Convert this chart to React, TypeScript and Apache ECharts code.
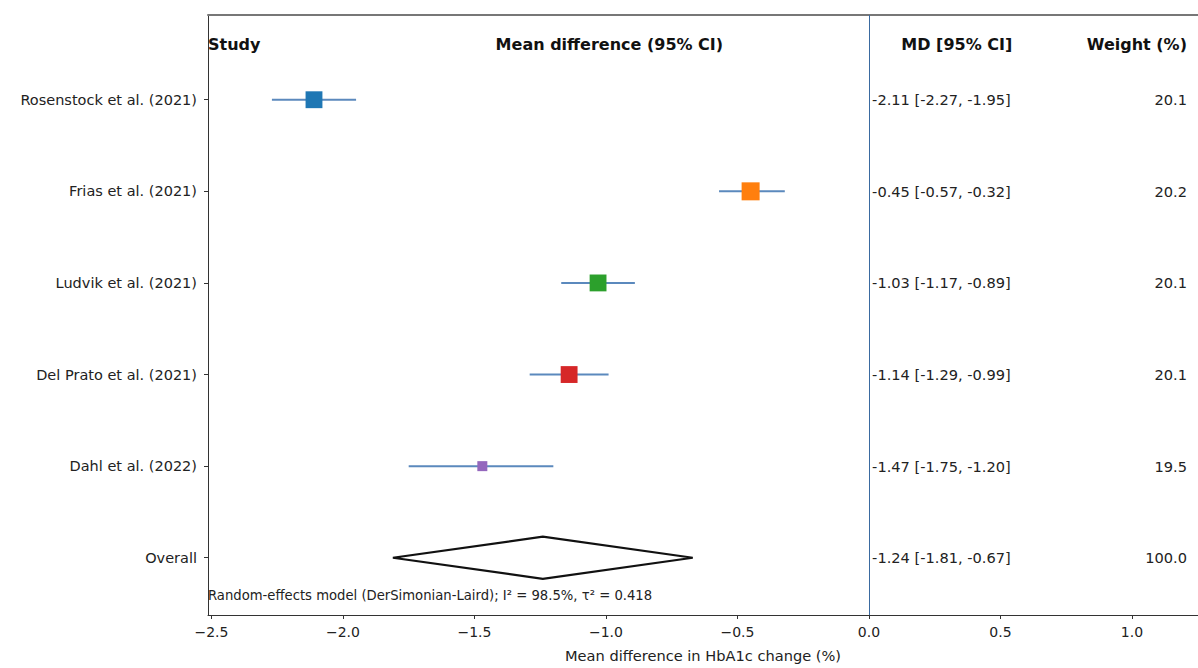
import React, { useEffect, useRef } from "react";
import * as echarts from "echarts";

const studies = [
  "Rosenstock et al. (2021)",
  "Frias et al. (2021)",
  "Ludvik et al. (2021)",
  "Del Prato et al. (2021)",
  "Dahl et al. (2022)",
];
const meanDiff = [-2.11, -0.45, -1.03, -1.14, -1.47];
const ciLow = [-2.27, -0.57, -1.17, -1.29, -1.75];
const ciHigh = [-1.95, -0.32, -0.89, -0.99, -1.2];
const weights = [20.1, 20.2, 20.1, 20.1, 19.5];

const overallLabel = "Overall";
const overallMD = -1.24;
const overallLow = -1.81;
const overallHigh = -0.67;
const overallWeight = 100.0;

const headers = ["Study", "Mean difference (95% CI)", "MD [95% CI]", "Weight (%)"];
const xTicks = [-2.5, -2.0, -1.5, -1.0, -0.5, 0.0, 0.5, 1.0];
const xAxisName = "Mean difference in HbA1c change (%)";
const footnote = "Random-effects model (DerSimonian-Laird); I\u00b2 = 98.5%, \u03c4\u00b2 = 0.418";

const markerColors = ["#1f77b4", "#ff7f0e", "#2ca02c", "#d62728", "#9467bd"];

// layout constants
const XMIN = -2.513;
const XMAX = 1.251;
const YMIN = -0.925;
const YMAX = 5.625;
const HEADER_ROW = -0.6;
const FOOT_ROW = 5.41;
const MD_COL_X = 0.012;
const MD_HEAD_X = 0.545;
const W_COL_X = 1.209;
const MEAN_HEAD_X = -0.987;
const DIAMOND_HALF = 0.23;
const FONT = '"DejaVu Sans", sans-serif';
const TEXT_COLOR = "#222";
const CI_COLOR = "#5b89bd";

const markerSize = (w: number) => {
  const mn = Math.min(...weights);
  const mx = Math.max(...weights);
  return 10 + ((w - mn) / (mx - mn)) * 8;
};

const fmt2 = (v: number) => v.toFixed(2);

export default function App() {
  const ref = useRef<HTMLDivElement>(null);

  useEffect(() => {
    document.body.style.margin = "0";
    if (!ref.current) return;
    const chart = echarts.init(ref.current, undefined, { renderer: "svg" });

    const rowLabels = [...studies, overallLabel];
    const rowIdx = rowLabels.map((_, i) => i);
    const mdTexts = [
      ...studies.map((_, i) => `${fmt2(meanDiff[i])} [${fmt2(ciLow[i])}, ${fmt2(ciHigh[i])}]`),
      `${fmt2(overallMD)} [${fmt2(overallLow)}, ${fmt2(overallHigh)}]`,
    ];
    const wTexts = [...weights.map((w) => w.toFixed(1)), overallWeight.toFixed(1)];

    const headerPos: [number, string][] = [
      [XMIN, "left"],
      [MEAN_HEAD_X, "center"],
      [MD_HEAD_X, "right"],
      [W_COL_X, "right"],
    ];

    const option: any = {
      animation: false,
      grid: { left: 208, right: 0, top: 15, bottom: 48 },
      xAxis: [
        {
          type: "value",
          min: XMIN,
          max: XMAX,
          position: "bottom",
          axisLine: { show: true, onZero: false, lineStyle: { color: "#333", width: 1 } },
          axisTick: { show: true, customValues: xTicks, length: 4, lineStyle: { color: "#333" } },
          axisLabel: {
            customValues: xTicks,
            formatter: (v: number) => v.toFixed(1).replace("-", "\u2212"),
            fontFamily: FONT,
            fontSize: 14,
            color: TEXT_COLOR,
            margin: 10,
          },
          splitLine: { show: false },
          name: xAxisName,
          nameLocation: "middle",
          nameGap: 33,
          nameTextStyle: { fontFamily: FONT, fontSize: 14.6, color: TEXT_COLOR },
        },
        {
          type: "value",
          min: XMIN,
          max: XMAX,
          position: "top",
          axisLine: { show: true, onZero: false, lineStyle: { color: "#777", width: 2 } },
          axisTick: { show: false },
          axisLabel: { show: false },
          splitLine: { show: false },
        },
      ],
      yAxis: {
        type: "value",
        inverse: true,
        min: YMIN,
        max: YMAX,
        axisLine: { show: true, onZero: false, lineStyle: { color: "#333", width: 1 } },
        axisTick: { show: true, customValues: rowIdx, length: 4, lineStyle: { color: "#333" } },
        axisLabel: {
          customValues: rowIdx,
          formatter: (v: number) => rowLabels[Math.round(v)] ?? "",
          fontFamily: FONT,
          fontSize: 14.5,
          color: TEXT_COLOR,
          margin: 11,
        },
        splitLine: { show: false },
      },
      series: [
        {
          type: "custom",
          name: "ci",
          silent: true,
          data: studies.map((_, i) => [ciLow[i], ciHigh[i], i]),
          encode: { x: [0, 1], y: 2 },
          renderItem: (params: any, api: any) => {
            const p1 = api.coord([api.value(0), api.value(2)]);
            const p2 = api.coord([api.value(1), api.value(2)]);
            return {
              type: "line",
              shape: { x1: p1[0], y1: p1[1], x2: p2[0], y2: p2[1] },
              style: { stroke: CI_COLOR, lineWidth: 2 },
            };
          },
          markLine: {
            silent: true,
            symbol: "none",
            label: { show: false },
            lineStyle: { color: "#3a6aa0", width: 1, type: "solid", opacity: 1 },
            data: [{ xAxis: 0 }],
          },
          z: 2,
        },
        {
          type: "scatter",
          name: "md",
          symbol: "rect",
          silent: true,
          data: studies.map((_, i) => ({
            value: [meanDiff[i], i],
            symbolSize: markerSize(weights[i]),
            itemStyle: { color: markerColors[i], opacity: 1 },
          })),
          z: 3,
        },
        {
          type: "custom",
          name: "overall",
          silent: true,
          data: [[overallMD, overallLow, overallHigh, studies.length]],
          encode: { x: [0, 1, 2], y: 3 },
          renderItem: (params: any, api: any) => {
            const y = api.value(3);
            const pts = [
              api.coord([api.value(1), y]),
              api.coord([api.value(0), y - DIAMOND_HALF]),
              api.coord([api.value(2), y]),
              api.coord([api.value(0), y + DIAMOND_HALF]),
            ];
            return {
              type: "polygon",
              shape: { points: pts },
              style: { fill: "#fff", stroke: "#111", lineWidth: 2.2, lineJoin: "miter" },
            };
          },
          z: 3,
        },
        {
          type: "custom",
          name: "table",
          silent: true,
          data: rowLabels.map((_, i) => [MD_COL_X, i]),
          encode: { x: 0, y: 1 },
          renderItem: (params: any, api: any) => {
            const i = params.dataIndex;
            const pMd = api.coord([MD_COL_X, i]);
            const pW = api.coord([W_COL_X, i]);
            return {
              type: "group",
              children: [
                {
                  type: "text",
                  x: pMd[0],
                  y: pMd[1],
                  style: {
                    text: mdTexts[i],
                    fill: TEXT_COLOR,
                    font: `14.6px ${FONT}`,
                    align: "left",
                    verticalAlign: "middle",
                  },
                },
                {
                  type: "text",
                  x: pW[0],
                  y: pW[1],
                  style: {
                    text: wTexts[i],
                    fill: TEXT_COLOR,
                    font: `14.6px ${FONT}`,
                    align: "right",
                    verticalAlign: "middle",
                  },
                },
              ],
            };
          },
          z: 4,
        },
        {
          type: "custom",
          name: "headers",
          silent: true,
          data: headers.map((_, i) => [headerPos[i][0], HEADER_ROW]),
          encode: { x: 0, y: 1 },
          renderItem: (params: any, api: any) => {
            const i = params.dataIndex;
            const p = api.coord([api.value(0), api.value(1)]);
            return {
              type: "text",
              x: p[0],
              y: p[1],
              style: {
                text: headers[i],
                fill: "#111",
                font: `bold 16px ${FONT}`,
                align: headerPos[i][1],
                verticalAlign: "middle",
              },
            };
          },
          z: 4,
        },
        {
          type: "custom",
          name: "footnote",
          silent: true,
          data: [[XMIN, FOOT_ROW]],
          encode: { x: 0, y: 1 },
          renderItem: (params: any, api: any) => {
            const p = api.coord([api.value(0), api.value(1)]);
            return {
              type: "text",
              x: p[0],
              y: p[1],
              style: {
                text: footnote,
                fill: TEXT_COLOR,
                font: `13.2px ${FONT}`,
                align: "left",
                verticalAlign: "middle",
              },
            };
          },
          z: 4,
        },
      ],
    };

    chart.setOption(option);
    return () => chart.dispose();
  }, []);

  return <div ref={ref} style={{ width: 1198, height: 668 }} />;
}
